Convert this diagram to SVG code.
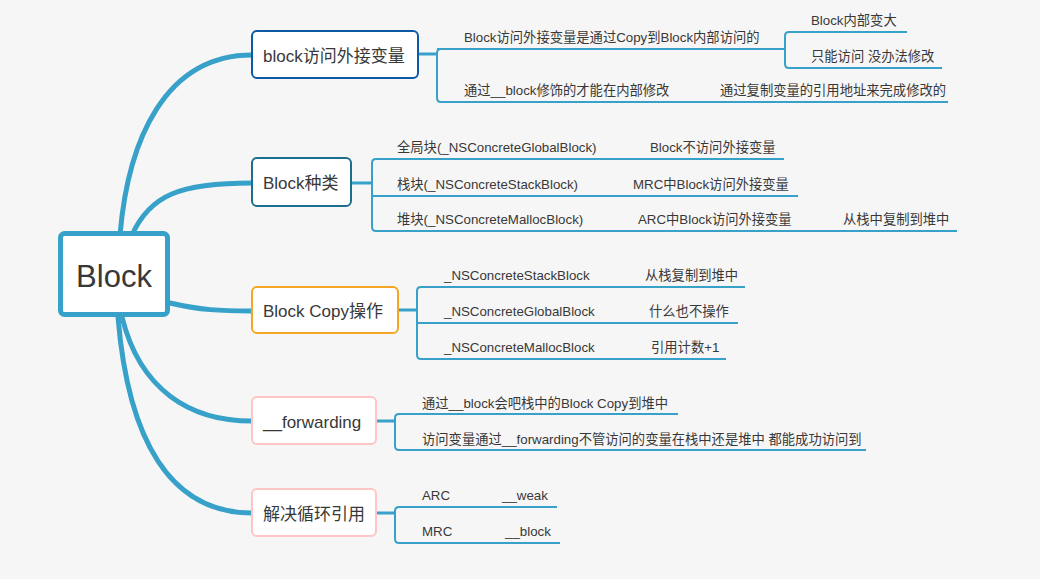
<svg xmlns="http://www.w3.org/2000/svg" width="1040" height="579" viewBox="0 0 1040 579">
<style>
.bg{fill:#f6f6f6}
.curve{fill:none;stroke:#38a1c9;stroke-width:5;stroke-linecap:round}
.link{fill:none;stroke:#38a1c9;stroke-width:3}
.line{fill:none;stroke:#38a1c9;stroke-width:2;stroke-linejoin:round}
.node{fill:#ffffff;stroke-width:2}
.t{font-family:"Liberation Sans","Noto Sans CJK SC",sans-serif;fill:#383838}
.leaf{font-size:13.3px}
.main{font-size:17px}
</style>
<rect class="bg" x="0" y="0" width="1040" height="579"/>
<g id="connectors">
<path class="curve" d="M120,235 C128,140 165,55 252,55"/>
<path class="curve" d="M132,235 C150,195 180,183 252,183"/>
<path class="curve" d="M170,303 C200,310 220,311 252,311"/>
<path class="curve" d="M122,317 C140,390 190,421 252,421"/>
<path class="curve" d="M118,317 C128,440 170,513 252,513"/>
<path class="link" d="M418,54 H437"/>
<path class="line" d="M785,49 H437 M441,49 Q437,49 437,53 V98 Q437,102 441,102 H948"/>
<path class="line" d="M907,32 H789 Q785,32 785,36 V64 Q785,68 789,68 H942"/>
<path class="link" d="M351,183 H372"/>
<path class="line" d="M784,159 H376 Q372,159 372,163 V227 Q372,231 376,231 H957 M372,196 H798"/>
<path class="link" d="M398,310 H417"/>
<path class="line" d="M745,287 H421 Q417,287 417,291 V355 Q417,359 421,359 H726 M417,323 H738"/>
<path class="link" d="M376,421 H395"/>
<path class="line" d="M678,414 H399 Q395,414 395,418 V446 Q395,450 399,450 H866"/>
<path class="link" d="M376,513 H395"/>
<path class="line" d="M557,507 H399 Q395,507 395,511 V539 Q395,543 399,543 H560"/>
</g>
<g id="root">
<rect x="60.5" y="233.5" width="107" height="81" rx="4" fill="#ffffff" stroke="#38a1c9" stroke-width="5"/>
<text class="t" x="114" y="287" font-size="31" text-anchor="middle">Block</text>
</g>
<g id="branch1">
<rect class="node" x="252" y="31" width="166" height="47" rx="5" stroke="#0c5aa6"/>
<text class="t main" x="263" y="62">block访问外接变量</text>
</g>
<g id="leaf1-1"><text class="t leaf" x="464" y="42">Block访问外接变量是通过Copy到Block内部访问的</text></g>
<g id="leaf1-1a"><text class="t leaf" x="811" y="25">Block内部变大</text></g>
<g id="leaf1-1b"><text class="t leaf" x="811" y="61">只能访问 没办法修改</text></g>
<g id="leaf1-2"><text class="t leaf" x="464" y="95">通过__block修饰的才能在内部修改</text></g>
<g id="leaf1-2a"><text class="t leaf" x="720" y="95">通过复制变量的引用地址来完成修改的</text></g>
<g id="branch2">
<rect class="node" x="252" y="158" width="99" height="48" rx="5" stroke="#1d6f8e"/>
<text class="t main" x="263" y="189">Block种类</text>
</g>
<g id="leaf2-1"><text class="t leaf" x="397" y="152">全局块(_NSConcreteGlobalBlock)</text></g>
<g id="leaf2-1a"><text class="t leaf" x="650" y="152">Block不访问外接变量</text></g>
<g id="leaf2-2"><text class="t leaf" x="397" y="189">栈块(_NSConcreteStackBlock)</text></g>
<g id="leaf2-2a"><text class="t leaf" x="633" y="189">MRC中Block访问外接变量</text></g>
<g id="leaf2-3"><text class="t leaf" x="397" y="224">堆块(_NSConcreteMallocBlock)</text></g>
<g id="leaf2-3a"><text class="t leaf" x="638" y="224">ARC中Block访问外接变量</text></g>
<g id="leaf2-3b"><text class="t leaf" x="843" y="224">从栈中复制到堆中</text></g>
<g id="branch3">
<rect class="node" x="252" y="287" width="146" height="46" rx="5" stroke="#f5a623"/>
<text class="t main" x="263" y="317">Block Copy操作</text>
</g>
<g id="leaf3-1"><text class="t leaf" x="444" y="280">_NSConcreteStackBlock</text></g>
<g id="leaf3-1a"><text class="t leaf" x="645" y="280">从栈复制到堆中</text></g>
<g id="leaf3-2"><text class="t leaf" x="444" y="316">_NSConcreteGlobalBlock</text></g>
<g id="leaf3-2a"><text class="t leaf" x="649" y="316">什么也不操作</text></g>
<g id="leaf3-3"><text class="t leaf" x="444" y="352">_NSConcreteMallocBlock</text></g>
<g id="leaf3-3a"><text class="t leaf" x="651" y="352">引用计数+1</text></g>
<g id="branch4">
<rect class="node" x="252" y="397" width="124" height="47" rx="5" stroke="#ffc4c4"/>
<text class="t main" x="263" y="428">__forwarding</text>
</g>
<g id="leaf4-1"><text class="t leaf" x="422" y="408">通过__block会吧栈中的Block Copy到堆中</text></g>
<g id="leaf4-2"><text class="t leaf" x="422" y="444">访问变量通过__forwarding不管访问的变量在栈中还是堆中 都能成功访问到</text></g>
<g id="branch5">
<rect class="node" x="252" y="489" width="124" height="47" rx="5" stroke="#ffc4c4"/>
<text class="t main" x="263" y="520">解决循环引用</text>
</g>
<g id="leaf5-1"><text class="t leaf" x="422" y="500">ARC</text></g>
<g id="leaf5-1a"><text class="t leaf" x="502" y="500">__weak</text></g>
<g id="leaf5-2"><text class="t leaf" x="422" y="536">MRC</text></g>
<g id="leaf5-2a"><text class="t leaf" x="505" y="536">__block</text></g>
</svg>
